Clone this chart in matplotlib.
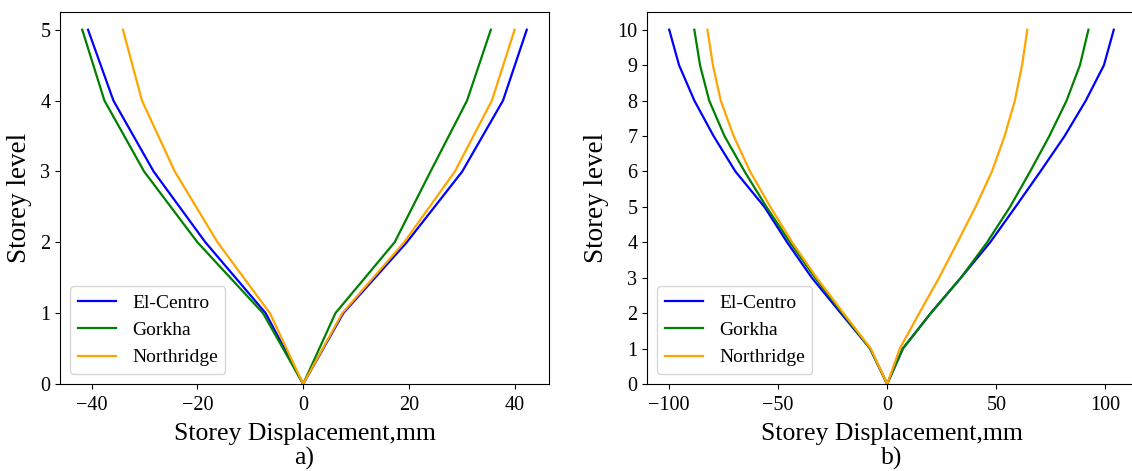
import numpy as np
import matplotlib
matplotlib.use("Agg")
import matplotlib.pyplot as plt

plt.rcParams['font.family'] = ['Liberation Serif', 'DejaVu Serif']

series_names = ['El-Centro', 'Gorkha', 'Northridge']
series_colors = ['blue', 'green', 'orange']

# a) 5 storey building
levels_a = [0, 1, 2, 3, 4, 5]
neg_a = {
    'El-Centro': [0, -7.1, -18.5, -28.3, -35.9, -40.7],
    'Gorkha': [0, -7.6, -20.0, -30.1, -37.6, -41.8],
    'Northridge': [0, -6.3, -16.2, -24.3, -30.5, -34.1],
}
pos_a = {
    'El-Centro': [0, 7.6, 19.6, 30.1, 37.8, 42.3],
    'Gorkha': [0, 6.1, 17.3, 24.1, 31.0, 35.5],
    'Northridge': [0, 7.4, 19.1, 28.7, 35.7, 40.0],
}

# b) 10 storey building
levels_b = [0, 1, 2, 3, 4, 5, 6, 7, 8, 9, 10]
neg_b = {
    'El-Centro': [0, -7.8, -21.2, -34.5, -45.8, -56.2, -69.5, -79.5, -88.3, -95.3, -99.8],
    'Gorkha': [0, -7.8, -20.5, -33.0, -44.5, -55.3, -65.3, -74.5, -81.5, -85.7, -88.3],
    'Northridge': [0, -7.5, -20.0, -32.3, -43.5, -53.5, -62.8, -70.3, -76.2, -79.8, -82.3],
}
pos_b = {
    'El-Centro': [0, 7.2, 20.0, 33.8, 47.2, 58.8, 70.2, 81.3, 91.0, 99.3, 103.8],
    'Gorkha': [0, 7.2, 20.0, 33.8, 45.8, 56.3, 65.5, 74.3, 82.2, 88.3, 92.2],
    'Northridge': [0, 5.8, 14.7, 23.8, 32.2, 40.5, 48.0, 53.8, 58.5, 61.8, 64.2],
}


def draw_panel(ax, levels, neg, pos, tag):
    """Plot the displacement envelope (negative side top->0, then 0->top positive side)"""
    for name, color in zip(series_names, series_colors):
        x = neg[name][::-1] + pos[name][1:]
        y = levels[::-1] + levels[1:]
        ax.plot(x, y, color=color, lw=1.6, label=name)
    ax.set_ylim(bottom=0)
    ax.set_yticks(levels)
    ax.set_xlabel('Storey Displacement,mm\n' + tag, fontsize=18.5, linespacing=1.12, labelpad=6)
    ax.set_ylabel('Storey level', fontsize=19.5, labelpad=6)
    ax.tick_params(labelsize=14.5)
    ax.tick_params(axis='x', pad=5)
    ax.legend(loc='lower left', fontsize=14)


fig = plt.figure(figsize=(11.32, 4.71), dpi=100)
ax1 = fig.add_axes([60/1132, 87/471, 489/1132, 372/471])
ax2 = fig.add_axes([647/1132, 87/471, 489/1132, 372/471])

draw_panel(ax1, levels_a, neg_a, pos_a, 'a)')
draw_panel(ax2, levels_b, neg_b, pos_b, 'b)')

fig.savefig('out.png', dpi=100)
